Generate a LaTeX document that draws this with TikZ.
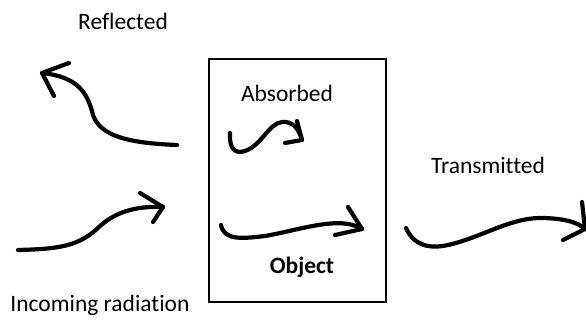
\documentclass[tikz,border=0pt]{standalone}
\usepackage{fontspec}
\setmainfont[Ligatures=CommonOff]{Carlito}
\begin{document}
\begin{tikzpicture}[x=1pt,y=-1pt,
  pen/.style={line width=4.2pt,line cap=round,line join=round},
  lbl/.style={font=\fontsize{23.5}{26}\selectfont,inner sep=0pt},
  boxline/.style={line width=1.6pt}]
\useasboundingbox (0,0) rectangle (586,320);
% the object
\draw[boxline] (209,59) rectangle (386,302);
% labels
\node[lbl] (refl) at (123,21) {Reflected};
\node[lbl] (inc) at (100,305) {Incoming radiation};
\node[lbl] (abs) at (287,93) {Absorbed};
\node[lbl,font=\fontsize{23.5}{26}\selectfont\bfseries] (obj) at (302,267) {Object};
\node[lbl] (trans) at (488,165) {Transmitted};
% reflected ray
\coordinate (rt) at (42,73);
\draw[pen] (177,145) .. controls (125,143) and (100,135) .. (93,115)
  .. controls (88,95) and (80,77) .. (rt);
\draw[pen] (69,63) -- (rt) -- (54,96);
% incoming ray
\coordinate (it) at (163,207);
\draw[pen] (18,250) .. controls (60,249) and (80,246) .. (100,226)
  .. controls (118,210) and (140,206) .. (it);
\draw[pen] (140,193) -- (it) -- (153,222);
% absorbed ray
\coordinate (at) at (302,140);
\draw[pen] (230,133) .. controls (229,150) and (236,154) .. (245,151)
  .. controls (262,145) and (268,124) .. (282,122)
  .. controls (294,121) and (299,130) .. (at);
\draw[pen] (297,121) -- (at) -- (285,143);
% ray crossing the object
\coordinate (ot) at (362,229);
\draw[pen] (221,225) .. controls (224,240) and (240,239) .. (265,236)
  .. controls (300,230) and (340,215) .. (ot);
\draw[pen] (348,207) -- (ot) -- (335,235);
% transmitted ray
\coordinate (tt) at (585,229);
\draw[pen] (406,228) .. controls (414,246) and (430,249) .. (448,245)
  .. controls (480,238) and (510,218) .. (540,218)
  .. controls (562,218) and (578,222) .. (tt);
\draw[pen] (582,202) -- (tt) -- (563,240);
\end{tikzpicture}
\end{document}
